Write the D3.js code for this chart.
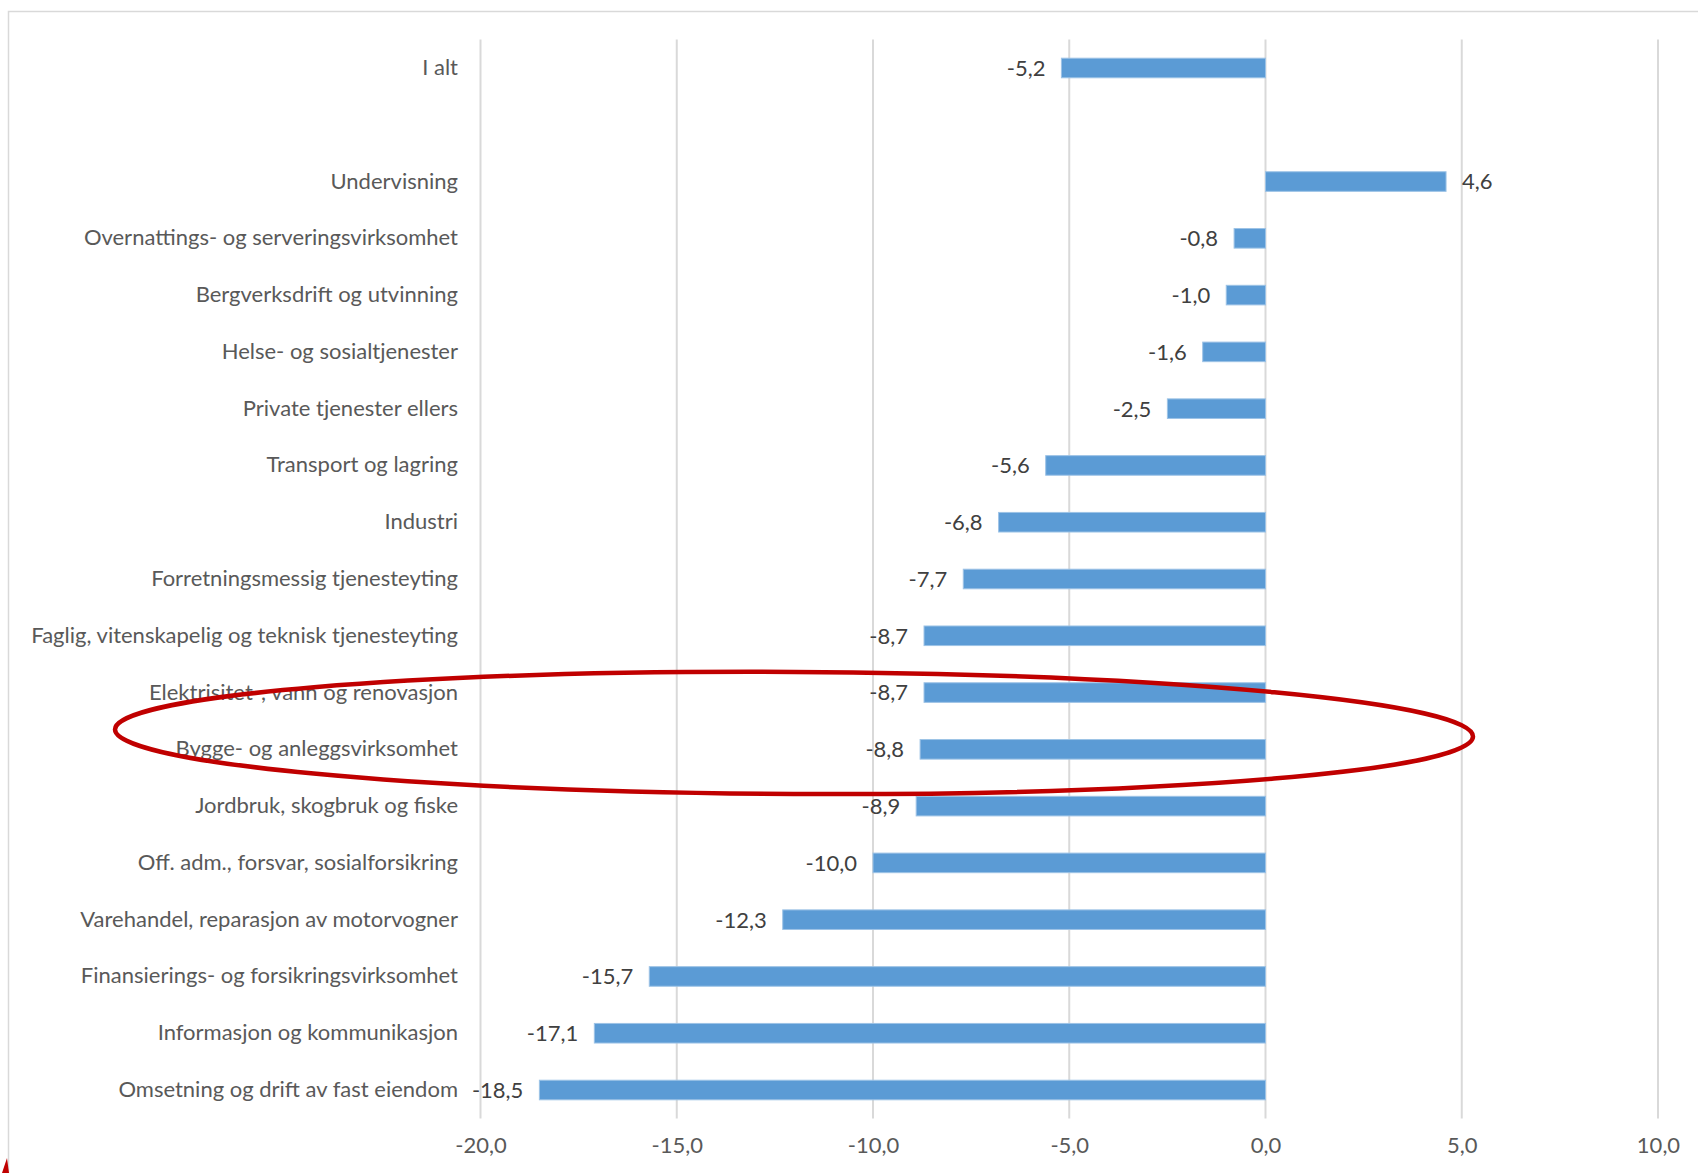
<!DOCTYPE html>
<html lang="no">
<head>
<meta charset="UTF-8">
<title>Endring etter næring</title>
<script src="https://d3js.org/d3.v7.min.js"></script>
<style>
  body { margin: 0; background: #fff; }
  svg { display: block; font-family: Lato, "Open Sans", sans-serif; }
</style>
</head>
<body>
<script>
// categories top to bottom; empty string is the blank row under "I alt"
const categories = [
  "I alt",
  "",
  "Undervisning",
  "Overnattings- og serveringsvirksomhet",
  "Bergverksdrift og utvinning",
  "Helse- og sosialtjenester",
  "Private tjenester ellers",
  "Transport og lagring",
  "Industri",
  "Forretningsmessig tjenesteyting",
  "Faglig, vitenskapelig og teknisk tjenesteyting",
  "Elektrisitet-, vann og renovasjon",
  "Bygge- og anleggsvirksomhet",
  "Jordbruk, skogbruk og fiske",
  "Off. adm., forsvar, sosialforsikring",
  "Varehandel, reparasjon av motorvogner",
  "Finansierings- og forsikringsvirksomhet",
  "Informasjon og kommunikasjon",
  "Omsetning og drift av fast eiendom"
];
const values = [-5.2, null, 4.6, -0.8, -1.0, -1.6, -2.5, -5.6, -6.8, -7.7, -8.7, -8.7, -8.8, -8.9, -10.0, -12.3, -15.7, -17.1, -18.5];
const xTicks = [-20, -15, -10, -5, 0, 5, 10];
const highlighted = ["Elektrisitet-, vann og renovasjon", "Bygge- og anleggsvirksomhet"];

const W = 1698, H = 1173;
const plotLeft = 480.5, plotRight = 1658, plotTop = 39.6, plotBottom = 1118.4;
const fontSize = 22;

const fmt = v => d3.format(".1f")(v).replace("−", "-").replace(".", ",");

const svg = d3.select("body").append("svg")
  .attr("width", W)
  .attr("height", H);

// chart area border (runs past the right and bottom edges of the picture)
svg.append("rect")
  .attr("x", 8.5).attr("y", 11.5)
  .attr("width", W + 20).attr("height", H + 20)
  .attr("fill", "none")
  .attr("stroke", "#d9d9d9")
  .attr("stroke-width", 1.5);

const x = d3.scaleLinear().domain([-20, 10]).range([plotLeft, plotRight]);
const y = d3.scaleBand().domain(categories).range([plotTop, plotBottom]).paddingInner(0.655).paddingOuter(0.3275);

// gridlines
svg.append("g")
  .selectAll("line")
  .data(xTicks)
  .join("line")
  .attr("x1", d => x(d)).attr("x2", d => x(d))
  .attr("y1", plotTop).attr("y2", plotBottom)
  .attr("stroke", "#d9d9d9")
  .attr("stroke-width", 2);

// x axis labels
const xAxis = d3.axisBottom(x).tickValues(xTicks).tickSize(0).tickPadding(0).tickFormat(fmt);
svg.append("g")
  .attr("transform", `translate(0,${plotBottom + 19})`)
  .call(xAxis)
  .call(g => g.select(".domain").remove())
  .call(g => g.selectAll("text")
    .attr("fill", "#595959")
    .attr("font-size", fontSize)
    .attr("font-family", "Lato, 'Open Sans', sans-serif"));

const rows = categories.map((c, i) => ({ cat: c, v: values[i] })).filter(d => d.v !== null);

// bars
svg.append("g")
  .selectAll("rect")
  .data(rows)
  .join("rect")
  .attr("x", d => x(Math.min(0, d.v)))
  .attr("y", d => y(d.cat))
  .attr("width", d => Math.abs(x(d.v) - x(0)))
  .attr("height", y.bandwidth())
  .attr("fill", "#5b9bd5")
  .attr("stroke", "#9dc3e6")
  .attr("stroke-width", 1);

// value labels
svg.append("g")
  .selectAll("text")
  .data(rows)
  .join("text")
  .attr("x", d => d.v < 0 ? x(d.v) - 16 : x(d.v) + 16)
  .attr("y", d => y(d.cat) + y.bandwidth() / 2)
  .attr("dy", "0.36em")
  .attr("text-anchor", d => d.v < 0 ? "end" : "start")
  .attr("fill", "#404040")
  .attr("font-size", fontSize)
  .text(d => fmt(d.v));

// category labels
svg.append("g")
  .selectAll("text")
  .data(categories.filter(c => c !== ""))
  .join("text")
  .attr("x", 458)
  .attr("y", d => y(d) + y.bandwidth() / 2)
  .attr("dy", "0.32em")
  .attr("text-anchor", "end")
  .attr("fill", "#595959")
  .attr("font-size", fontSize)
  .text(d => d);

// red ellipse around the highlighted rows
const yMid = (y(highlighted[0]) + y(highlighted[1]) + y.bandwidth()) / 2;
svg.append("ellipse")
  .attr("cx", 794).attr("cy", yMid + 12)
  .attr("rx", 679).attr("ry", 61)
  .attr("transform", `rotate(0.3,794,${yMid + 12})`)
  .attr("fill", "none")
  .attr("stroke", "#c00000")
  .attr("stroke-width", 4.5);

// edge of another red mark cut off at the bottom left
svg.append("path")
  .attr("d", "M2,1173 L7,1158 L9,1173 Z")
  .attr("fill", "#c00000");
</script>
</body>
</html>
